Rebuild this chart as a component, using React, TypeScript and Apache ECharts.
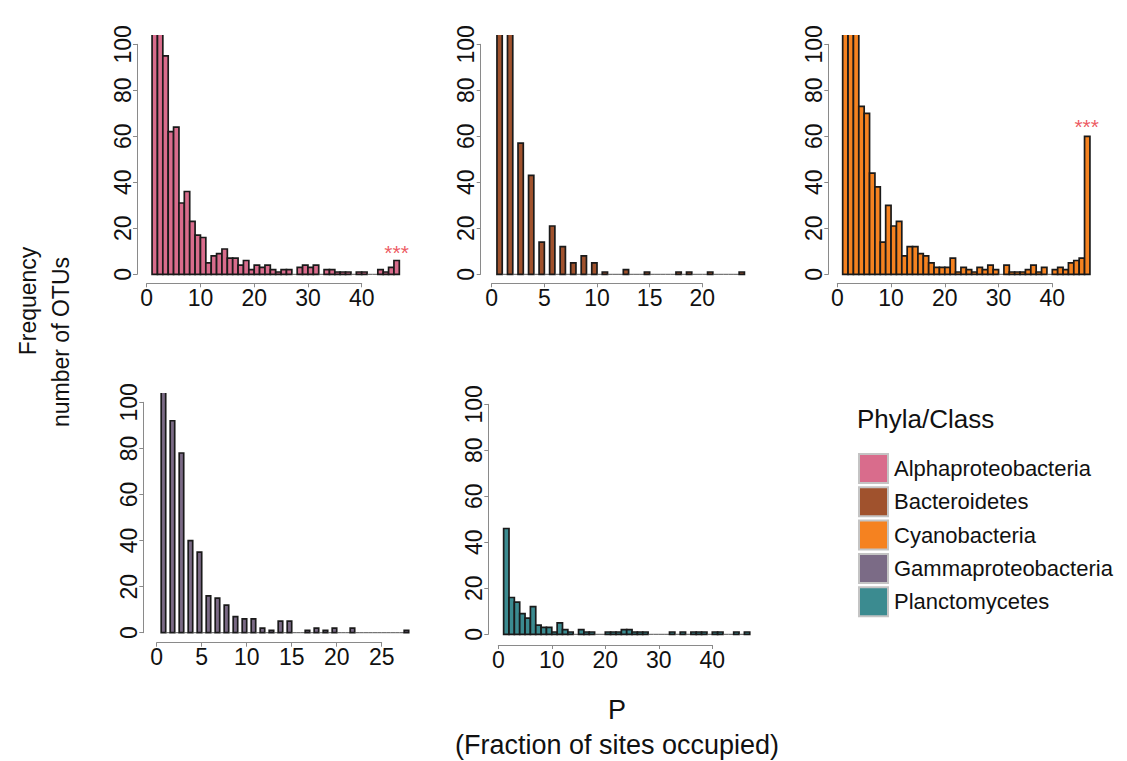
import React, { useEffect, useRef } from "react";
import * as echarts from "echarts";

// ---------- data ----------
// Number of OTUs per occupancy bin. Bars clipped above the plot top are given
// plausible values above 104 (they are drawn clipped as in the reference).
const phylaNames = [
  "Alphaproteobacteria",
  "Bacteroidetes",
  "Cyanobacteria",
  "Gammaproteobacteria",
  "Planctomycetes",
];

// bins [k, k+1], k = 1..46
const alphaCounts = [
  180, 140, 95, 62, 64, 31, 36, 23, 17, 16,
  5, 8, 9, 11, 7, 7, 4, 6, 2, 4,
  3, 4, 2, 1, 2, 2, 0, 3, 4, 3,
  4, 0, 2, 2, 1, 1, 1, 0, 1, 1,
  0, 0, 2, 1, 3, 6,
];
// P = 1..24, bar drawn on [P-0.5, P]
const bacteroidetesCounts = [
  230, 150, 57, 43, 14, 21, 12, 5, 8, 5,
  1, 0, 2, 0, 1, 0, 0, 1, 1, 0,
  1, 0, 0, 1,
];
// bins [k, k+1], k = 1..46
const cyanoCounts = [
  200, 170, 130, 73, 70, 44, 38, 14, 30, 21,
  23, 8, 12, 12, 9, 8, 5, 3, 3, 3,
  7, 1, 3, 2, 1, 3, 2, 4, 2, 0,
  4, 1, 1, 1, 2, 4, 1, 3, 0, 2,
  3, 2, 5, 6, 7, 60,
];
// P = 1..28, bar drawn on [P-0.5, P]
const gammaCounts = [
  110, 92, 78, 40, 35, 16, 15, 12, 7, 6,
  6, 2, 1, 5, 5, 0, 1, 2, 1, 2,
  0, 2, 0, 0, 0, 0, 0, 1,
];
// bins [k, k+1], k = 1..46
const planctoCounts = [
  46, 16, 14, 9, 7, 12, 4, 3, 3, 1,
  5, 2, 1, 0, 2, 1, 1, 0, 0, 1,
  1, 1, 2, 2, 1, 1, 1, 0, 0, 0,
  0, 1, 0, 1, 0, 1, 1, 1, 0, 1,
  1, 0, 0, 1, 0, 1,
];

const yTicks = [0, 20, 40, 60, 80, 100];
const xTickMax = [40, 20, 40, 25, 40];
const xTickStep = [10, 5, 10, 5, 10];

// significance markers: [panel index, x, y]
const sigPanels = [0, 2];
const sigX = [46.5, 46.4];
const sigY = [9.4, 64.3];
const sigText = "***";

// ---------- styles / layout ----------
const FONT = "Liberation Sans, Arial, Helvetica, sans-serif";
const Y_CLIP = 104;
const colors = ["#d96c8c", "#a0522d", "#f58220", "#7b6b86", "#3b8b90"];
const countsList = [alphaCounts, bacteroidetesCounts, cyanoCounts, gammaCounts, planctoCounts];
const halfWidth = [false, true, false, true, false];

const layout = [
  { left: 146.7, top: 44.3, width: 215, height: 230, yOff: 9.7, xOff: 9 },
  { left: 491.7, top: 44.3, width: 210.6, height: 230, yOff: 11, xOff: 9 },
  { left: 837.3, top: 44.3, width: 215, height: 230, yOff: 9, xOff: 9 },
  { left: 156.7, top: 402.3, width: 225, height: 230.4, yOff: 13.4, xOff: 10 },
  { left: 498.3, top: 404.3, width: 214, height: 230, yOff: 10, xOff: 10.7 },
];

function buildBins(counts: number[], half: boolean): number[][] {
  const out: number[][] = [];
  counts.forEach((c, i) => {
    const p = i + 1;
    if (half) {
      if (i > 0) out.push([p - 1, p - 0.5, 0]);
      out.push([p - 0.5, p, c]);
    } else {
      out.push([p, p + 1, c]);
    }
  });
  return out;
}

function makeRenderItem(color: string) {
  return (params: any, api: any) => {
    const x0 = api.value(0);
    const x1 = api.value(1);
    const c = api.value(2);
    const b0 = api.coord([x0, 0]);
    const b1 = api.coord([x1, 0]);
    if (!(c > 0)) {
      return {
        type: "line",
        shape: { x1: b0[0], y1: b0[1], x2: b1[0], y2: b1[1] },
        style: { stroke: "#555", lineWidth: 1 },
      };
    }
    const top = api.coord([x0, Math.min(c, Y_CLIP)]);
    const w = b1[0] - b0[0];
    const h = b0[1] - top[1];
    if (c > Y_CLIP) {
      return {
        type: "group",
        children: [
          { type: "rect", shape: { x: b0[0], y: top[1], width: w, height: h }, style: { fill: color } },
          {
            type: "polyline",
            shape: { points: [[b0[0], top[1]], [b0[0], b0[1]], [b1[0], b1[1]], [b1[0], top[1]]] },
            style: { stroke: "#1a1a1a", lineWidth: 1.7, fill: null },
          },
        ],
      };
    }
    return {
      type: "rect",
      shape: { x: b0[0], y: top[1], width: w, height: h },
      style: { fill: color, stroke: "#1a1a1a", lineWidth: 1.7 },
    };
  };
}

export default function App() {
  const ref = useRef<HTMLDivElement>(null);
  useEffect(() => {
    if (!ref.current) return;
    const chart = echarts.init(ref.current, undefined, { renderer: "svg" });
    const grid: any[] = [];
    const xAxis: any[] = [];
    const yAxis: any[] = [];
    const series: any[] = [];
    layout.forEach((L, i) => {
      grid.push({ left: L.left, top: L.top, width: L.width, height: L.height, containLabel: false });
      xAxis.push({
        type: "value",
        gridIndex: i,
        min: 0,
        max: xTickMax[i],
        interval: xTickStep[i],
        offset: L.xOff,
        axisLine: { show: true, onZero: false, lineStyle: { color: "#8a8a8a", width: 1 } },
        axisTick: { show: true, length: 4, lineStyle: { color: "#8a8a8a" } },
        axisLabel: { color: "#111", fontSize: 23, fontFamily: FONT, margin: 3 },
        splitLine: { show: false },
      });
      yAxis.push({
        type: "value",
        gridIndex: i,
        min: 0,
        max: 100,
        interval: 20,
        offset: L.yOff,
        axisLine: { show: true, onZero: false, lineStyle: { color: "#8a8a8a", width: 1 } },
        axisTick: { show: true, length: 4, lineStyle: { color: "#8a8a8a" } },
        axisLabel: {
          color: "#111",
          fontSize: 23,
          fontFamily: FONT,
          rotate: 90,
          margin: 3,
          formatter: (v: number) => (yTicks.indexOf(v) >= 0 ? String(v) : ""),
        },
        splitLine: { show: false },
      });
      series.push({
        type: "custom",
        name: phylaNames[i],
        xAxisIndex: i,
        yAxisIndex: i,
        clip: false,
        itemStyle: { color: colors[i] },
        encode: { x: [0, 1], y: 2 },
        data: buildBins(countsList[i], halfWidth[i]),
        renderItem: makeRenderItem(colors[i]),
        silent: true,
      });
    });
    sigPanels.forEach((p, k) => {
      series.push({
        type: "scatter",
        xAxisIndex: p,
        yAxisIndex: p,
        symbolSize: 1,
        itemStyle: { color: "rgba(0,0,0,0)" },
        clip: false,
        silent: true,
        data: [[sigX[k], sigY[k]]],
        label: {
          show: true,
          position: "inside",
          formatter: sigText,
          color: "#e8303a",
          fontSize: 21,
          fontFamily: FONT,
        },
      });
    });

    const txt = (text: string, x: number, y: number, size: number, rot = 0, align = "center") => ({
      type: "text",
      x,
      y,
      rotation: rot,
      silent: true,
      style: {
        text,
        x: 0,
        y: 0,
        align,
        verticalAlign: "middle",
        fontSize: size,
        fontFamily: FONT,
        fill: "#111",
      },
    });

    chart.setOption({
      animation: false,
      backgroundColor: "#ffffff",
      grid,
      xAxis,
      yAxis,
      series,
      legend: {
        data: phylaNames,
        orient: "vertical",
        left: 858,
        top: 453,
        padding: 0,
        itemWidth: 29,
        itemHeight: 29,
        itemGap: 2.3,
        icon: "rect",
        selectedMode: false,
        itemStyle: { borderColor: "#c4c4c4", borderWidth: 2 },
        textStyle: { fontSize: 22, fontFamily: FONT, color: "#111", padding: [0, 0, 0, 1] },
      },
      graphic: [
        txt("Frequency", 28, 301, 23, Math.PI / 2),
        txt("number of OTUs", 61, 342, 23, Math.PI / 2),
        txt("P", 617, 710, 27),
        txt("(Fraction of sites occupied)", 617, 745, 27),
        txt("Phyla/Class", 857, 419, 26, 0, "left"),
      ],
    });
    return () => chart.dispose();
  }, []);
  return (
    <div
      ref={ref}
      style={{ position: "fixed", left: 0, top: 0, width: 1127, height: 761, background: "#fff" }}
    />
  );
}
